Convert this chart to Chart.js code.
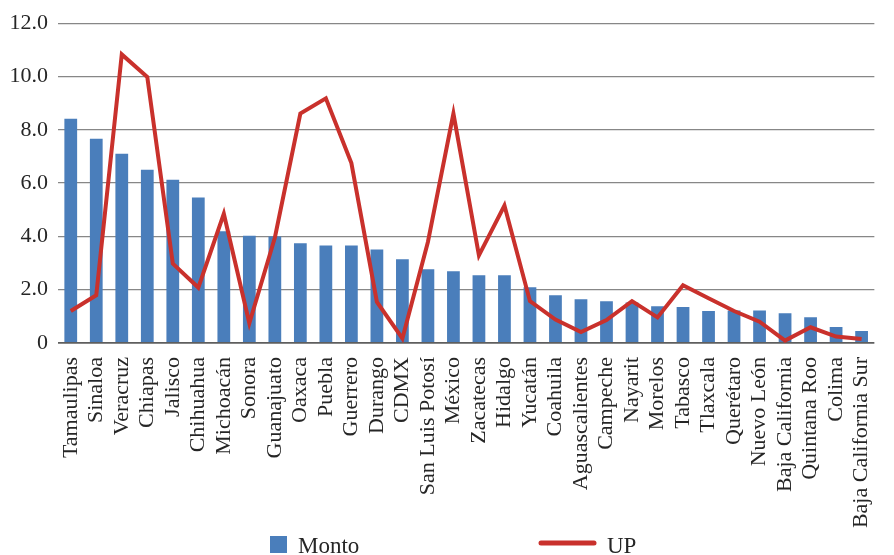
<!DOCTYPE html>
<html>
<head>
<meta charset="utf-8">
<script src="https://cdn.jsdelivr.net/npm/chart.js@4"></script>
<style>
    html, body { margin: 0; padding: 0; background: #fff; overflow: hidden; }
    #chart-container { width: 894px; height: 555px; }
</style>
</head>
<body>
<div id="chart-container"><canvas id="chart" width="894" height="555"></canvas></div>
<script>
const estados = ['Tamaulipas', 'Sinaloa', 'Veracruz', 'Chiapas', 'Jalisco', 'Chihuahua', 'Michoacán', 'Sonora',
    'Guanajuato', 'Oaxaca', 'Puebla', 'Guerrero', 'Durango', 'CDMX', 'San Luis Potosí', 'México', 'Zacatecas',
    'Hidalgo', 'Yucatán', 'Coahuila', 'Aguascalientes', 'Campeche', 'Nayarit', 'Morelos', 'Tabasco', 'Tlaxcala',
    'Querétaro', 'Nuevo León', 'Baja California', 'Quintana Roo', 'Colima', 'Baja California Sur'];

const monto = [8.41, 7.66, 7.10, 6.50, 6.13, 5.46, 4.19, 4.02, 4.00, 3.74, 3.66, 3.66, 3.51, 3.14, 2.77, 2.69,
    2.54, 2.54, 2.09, 1.79, 1.64, 1.57, 1.52, 1.38, 1.35, 1.20, 1.22, 1.22, 1.12, 0.97, 0.60, 0.45];

const up = [1.20, 1.79, 10.83, 9.98, 2.98, 2.08, 4.85, 0.74, 3.95, 8.61, 9.18, 6.75, 1.54, 0.17, 3.79, 8.61,
    3.29, 5.16, 1.57, 0.88, 0.41, 0.86, 1.57, 0.96, 2.17, 1.68, 1.20, 0.80, 0.09, 0.59, 0.24, 0.15];

const yTickLabels = ['0', '2.0', '4.0', '6.0', '8.0', '10.0', '12.0'];

const FONT = 'Liberation Serif';
const TEXT = '#262626';
const AZUL = '#4a7ebb';
const ROJO = '#c9312c';

// leyenda dibujada a mano, abajo
const leyendaAbajo = {
    id: 'leyendaAbajo',
    afterDraw(chart) {
        const ctx = chart.ctx;
        ctx.save();
        ctx.font = '23px "' + FONT + '"';
        ctx.textBaseline = 'alphabetic';

        ctx.fillStyle = AZUL;
        ctx.fillRect(270, 536, 17, 17);
        ctx.fillStyle = TEXT;
        ctx.fillText(chart.data.datasets[0].label, 298, 553);

        ctx.strokeStyle = ROJO;
        ctx.lineWidth = 5;
        ctx.lineCap = 'round';
        ctx.beginPath();
        ctx.moveTo(541, 543);
        ctx.lineTo(594, 543);
        ctx.stroke();
        ctx.fillText(chart.data.datasets[1].label, 607, 553);
        ctx.restore();
    }
};

new Chart(document.getElementById('chart').getContext('2d'), {
    data: {
        labels: estados,
        datasets: [{
            type: 'bar',
            label: 'Monto',
            data: monto,
            backgroundColor: AZUL,
            barPercentage: 0.5,
            categoryPercentage: 1.0,
            order: 1
        }, {
            type: 'line',
            label: 'UP',
            data: up,
            borderColor: ROJO,
            borderWidth: 4,
            pointRadius: 0,
            tension: 0,
            order: 0
        }]
    },
    options: {
        responsive: false,
        animation: false,
        layout: { padding: { top: 22, right: 0, bottom: 0, left: 0 } },
        plugins: {
            legend: { display: false },
            tooltip: { enabled: false }
        },
        scales: {
            x: {
                afterFit: s => { s.height = 212; },
                grid: { display: false },
                border: { display: false },
                ticks: {
                    autoSkip: false,
                    maxRotation: 90,
                    minRotation: 90,
                    padding: 6,
                    color: TEXT,
                    font: { family: FONT, size: 22 }
                }
            },
            y: {
                min: 0,
                max: 12,
                afterFit: s => { s.width = 58; },
                border: { display: false },
                grid: {
                    color: c => c.tick && c.tick.value === 0 ? '#5e5e5e' : '#878787',
                    lineWidth: c => c.tick && c.tick.value === 0 ? 1.8 : 1.3,
                    drawTicks: false
                },
                ticks: {
                    stepSize: 2,
                    padding: 10,
                    color: TEXT,
                    font: { family: FONT, size: 22 },
                    callback: (v, i) => yTickLabels[i]
                }
            }
        }
    },
    plugins: [leyendaAbajo]
});
</script>
</body>
</html>
